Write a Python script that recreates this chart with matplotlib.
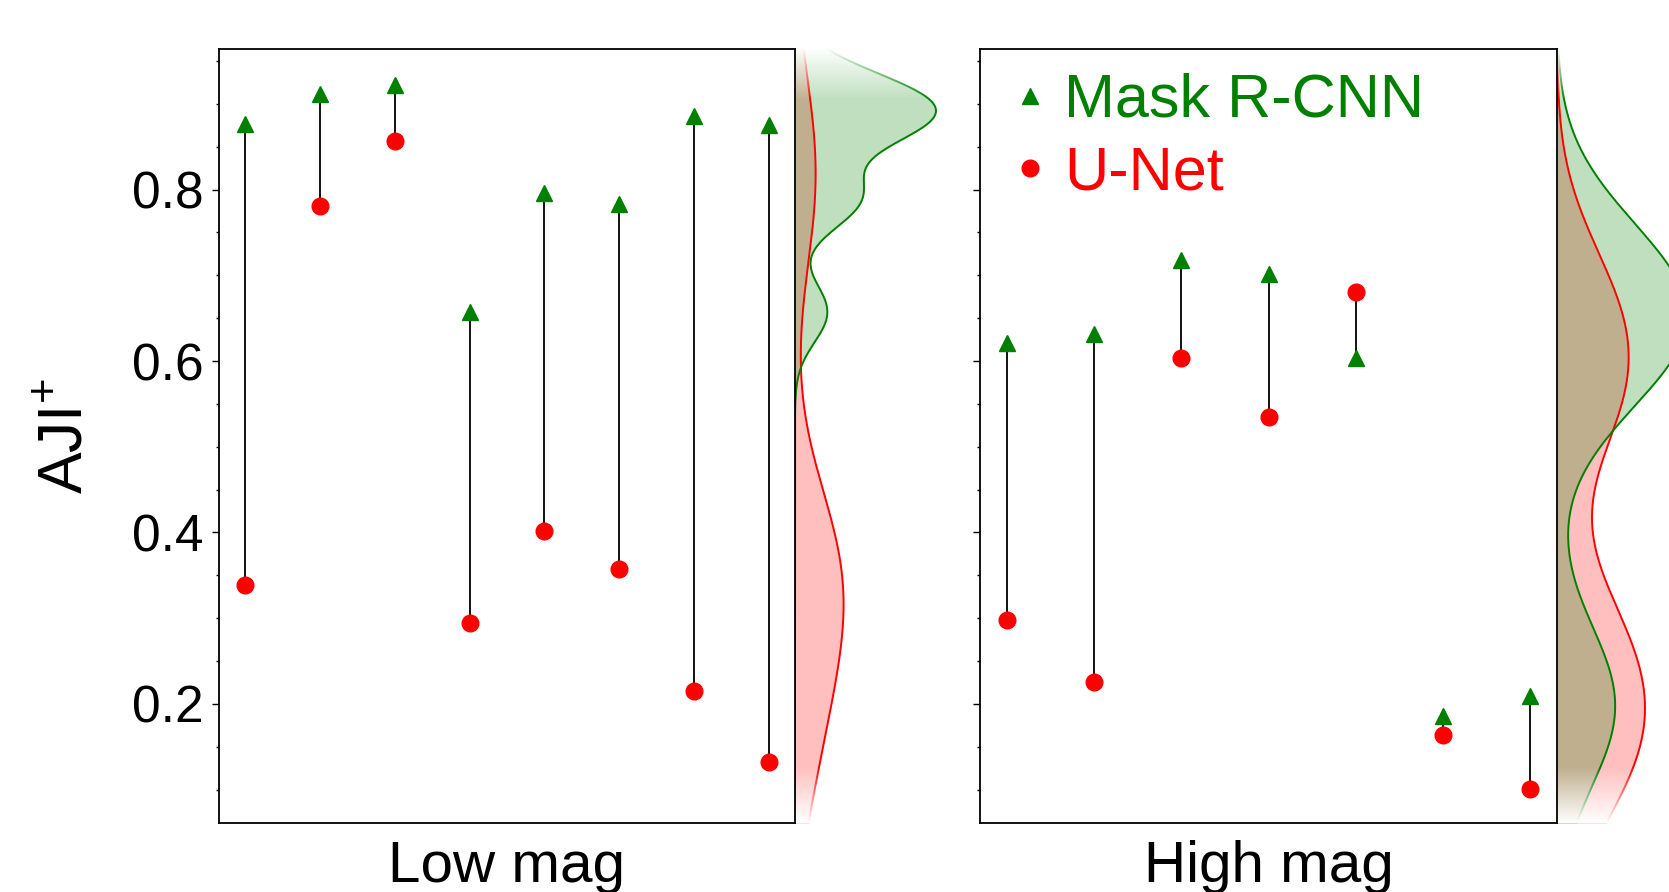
import numpy as np
import matplotlib
matplotlib.use('Agg')
import matplotlib.pyplot as plt
from matplotlib.lines import Line2D
from matplotlib.ticker import MultipleLocator

plt.rcParams['font.family'] = ['Liberation Sans', 'DejaVu Sans']
plt.rcParams['mathtext.fontset'] = 'custom'
plt.rcParams['mathtext.rm'] = 'Liberation Sans'
plt.rcParams['mathtext.it'] = 'Liberation Sans:italic'

# ---------------- data ----------------
panel_labels = ['Low mag', 'High mag']
series_names = ['Mask R-CNN', 'U-Net']
mask_low = [0.877, 0.912, 0.922, 0.657, 0.796, 0.783, 0.886, 0.875]
unet_low = [0.339, 0.781, 0.857, 0.294, 0.402, 0.357, 0.215, 0.132]
mask_high = [0.621, 0.632, 0.718, 0.701, 0.604, 0.186, 0.209]
unet_high = [0.298, 0.226, 0.604, 0.535, 0.681, 0.164, 0.101]
ytick_values = [0.2, 0.4, 0.6, 0.8]
ytick_labels = ['0.2', '0.4', '0.6', '0.8']

# ---------------- layout ----------------
W, H = 1669, 892
fig = plt.figure(figsize=(W / 100, H / 100), dpi=100)


def px_rect(l, t, w, h):
    return [l / W, 1 - (t + h) / H, w / W, h / H]


main_px = [(219, 49, 576, 774), (980, 49, 577, 774)]
marg_w = 150
xlims = [(-0.35, 7.35), (-0.305, 6.305)]
# pixel reach of the reference curve peak (green on left, red on right)
peak_px = [141.0, 88.0]
bw_adjust = 0.6
ylim = (0.061, 0.964)
GREEN = '#008000'
RED = '#ff0000'


def kde(data, grid):
    d = np.asarray(data, dtype=float)
    n = len(d)
    bw = bw_adjust * n ** (-1 / 5) * d.std(ddof=1)
    z = (grid[:, None] - d[None, :]) / bw
    return np.exp(-0.5 * z ** 2).sum(1) / (n * bw * np.sqrt(2 * np.pi))


def add_fade(axm, xmax, y0, y1, up):
    n = 200
    img = np.ones((n, 1, 4))
    a = np.linspace(0, 1, n) if up else np.linspace(1, 0, n)
    img[:, 0, 3] = a
    axm.imshow(img, origin='lower', extent=[0, xmax, y0, y1], aspect='auto',
               interpolation='bilinear', zorder=10)


data = [(mask_low, unet_low), (mask_high, unet_high)]

for i, (mask, unet) in enumerate(data):
    l, t, w, h = main_px[i]
    ax = fig.add_axes(px_rect(l, t, w, h))
    ax.set_zorder(3)
    x = np.arange(len(mask))
    ax.vlines(x, unet, mask, color='black', lw=1.3, zorder=1)
    ax.plot(x, mask, ls='none', marker='^', ms=12, color=GREEN, zorder=3)
    ax.plot(x, unet, ls='none', marker='o', ms=12, color=RED, zorder=3)
    ax.set_xlim(*xlims[i])
    ax.set_ylim(*ylim)
    ax.set_xticks([])
    ax.set_yticks(ytick_values)
    ax.yaxis.set_minor_locator(MultipleLocator(0.05))
    ax.tick_params(axis='y', which='major', length=5.3, width=1.0, pad=6,
                   labelsize=37)
    ax.tick_params(axis='y', which='minor', length=2.5, width=1.0)
    if i == 0:
        ax.set_yticklabels(ytick_labels)
        ax.set_ylabel('AJI$^{+}$', fontsize=45, labelpad=26)
    else:
        ax.set_yticklabels([])
    ax.set_xlabel(panel_labels[i], fontsize=42, labelpad=12)
    for sp in ax.spines.values():
        sp.set_linewidth(1.3)

    if i == 1:
        handles = [Line2D([], [], ls='none', marker='^', ms=12, color=GREEN),
                   Line2D([], [], ls='none', marker='o', ms=12, color=RED)]
        leg = ax.legend(handles, series_names, loc='upper left',
                        bbox_to_anchor=(0.055, 0.969), borderaxespad=0,
                        borderpad=0, frameon=False, fontsize=44,
                        handlelength=0.6, handletextpad=0.26,
                        labelspacing=0.25)
        for txt, c in zip(leg.get_texts(), [GREEN, RED]):
            txt.set_color(c)

    # marginal KDE
    axm = fig.add_axes(px_rect(l + w, t, marg_w, h))
    axm.set_zorder(1)
    grid = np.linspace(ylim[0], ylim[1], 800)
    dr = kde(unet, grid)
    dg = kde(mask, grid)
    ref_peak = dg.max() if i == 0 else dr.max()
    xmax = ref_peak * marg_w / peak_px[i]
    axm.fill_betweenx(grid, 0, dr, color=RED, alpha=0.25, lw=0)
    axm.plot(dr, grid, color=RED, lw=1.4)
    axm.fill_betweenx(grid, 0, dg, color=GREEN, alpha=0.25, lw=0)
    axm.plot(dg, grid, color=GREEN, lw=1.4)
    add_fade(axm, xmax, ylim[1] - 0.06, ylim[1], True)
    add_fade(axm, xmax, ylim[0], ylim[0] + 0.065, False)
    axm.set_xlim(0, xmax)
    axm.set_ylim(*ylim)
    axm.axis('off')

fig.savefig('out.png', dpi=100)
